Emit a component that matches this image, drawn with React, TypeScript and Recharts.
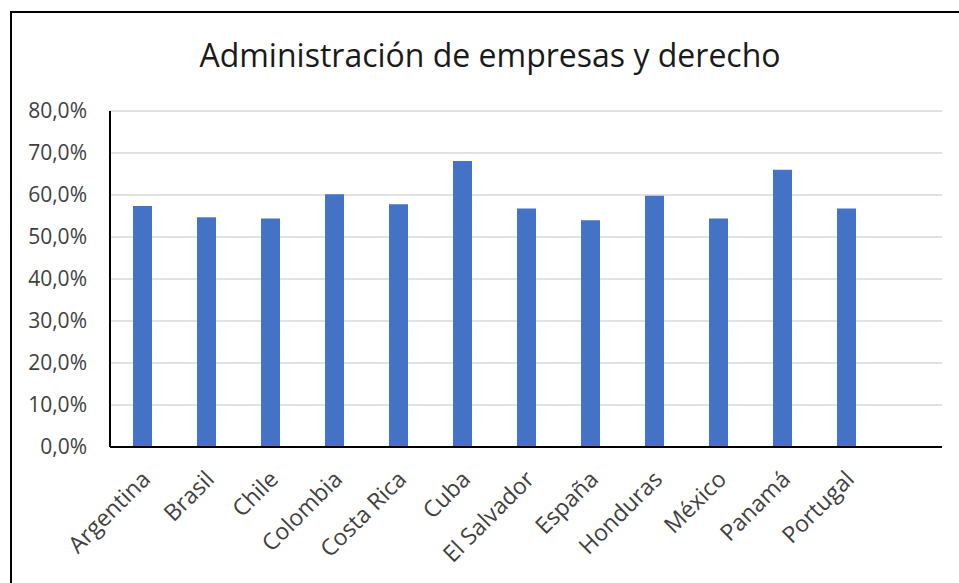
import React from "react";
import { BarChart, Bar, XAxis, YAxis, CartesianGrid } from "recharts";

const categories = [
  "Argentina",
  "Brasil",
  "Chile",
  "Colombia",
  "Costa Rica",
  "Cuba",
  "El Salvador",
  "España",
  "Honduras",
  "México",
  "Panamá",
  "Portugal",
  "",
];
const values: (number | null)[] = [57.4, 54.7, 54.4, 60.2, 57.8, 68.1, 56.8, 54.0, 59.8, 54.4, 66.0, 56.8, null];
const yTicks = [0, 10, 20, 30, 40, 50, 60, 70, 80];
const title = "Administración de empresas y derecho";

const data = categories.map((c, i) => ({ name: c, value: values[i] }));

const FONT = "'Open Sans', 'Noto Sans', sans-serif";
const TEXT = "#404040";

const fmt = (v: number) => `${v.toFixed(1).replace(".", ",")}%`;

const XTick = (props: any) => {
  const { x, y, payload } = props;
  const ax = x + 4;
  return (
    <text
      x={ax}
      y={y}
      transform={`rotate(-45 ${ax} ${y})`}
      textAnchor="end"
      dy="0.35em"
      fontSize={23}
      fontFamily={FONT}
      fill={TEXT}
    >
      {payload.value}
    </text>
  );
};

export default function App() {
  return (
    <div
      style={{
        position: "absolute",
        left: 0,
        top: 0,
        width: 959,
        height: 583,
        overflow: "hidden",
        background: "#fff",
      }}
    >
      <div
        style={{
          position: "absolute",
          left: 10,
          top: 11,
          width: 1200,
          height: 1200,
          borderLeft: "2px solid #000",
          borderTop: "2px solid #000",
        }}
      />
      <svg
        width={959}
        height={100}
        style={{ position: "absolute", left: 0, top: 0 }}
      >
        <text x={490} y={67} textAnchor="middle" fontSize={32} fontFamily={FONT} fill="#1a1a1a">
          {title}
        </text>
      </svg>
      <div style={{ position: "absolute", left: 0, top: 0 }}>
        <BarChart
          width={959}
          height={583}
          data={data}
          margin={{ top: 111, right: 17, bottom: 6, left: 10 }}
          barSize={19}
        >
          <CartesianGrid vertical={false} stroke="#D9D9D9" strokeWidth={1.5} />
          <XAxis
            dataKey="name"
            interval={0}
            height={130}
            tickLine={false}
            tickSize={0}
            tickMargin={28}
            axisLine={{ stroke: "#000", strokeWidth: 2 }}
            tick={<XTick />}
          />
          <YAxis
            width={100}
            domain={[0, 80]}
            ticks={yTicks}
            tickFormatter={fmt}
            tickLine={false}
            tickSize={0}
            tickMargin={23}
            axisLine={{ stroke: "#000", strokeWidth: 2 }}
            tick={{ fontSize: 21, fontFamily: FONT, fill: TEXT }}
            interval={0}
          />
          <Bar dataKey="value" fill="#4472C4" isAnimationActive={false} />
        </BarChart>
      </div>
    </div>
  );
}
